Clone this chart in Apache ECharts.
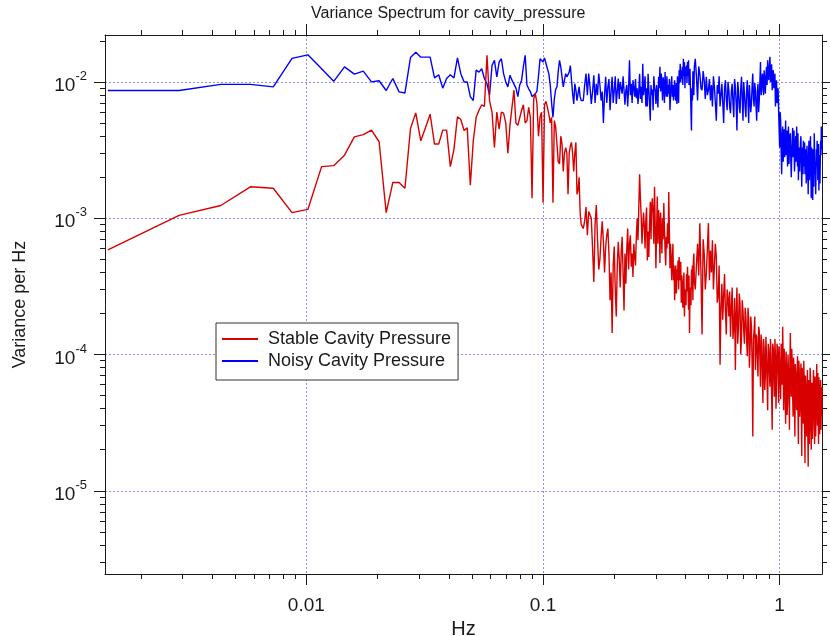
<!DOCTYPE html>
<html>
<head>
<meta charset="utf-8">
<title>Variance Spectrum for cavity_pressure</title>
<script src="https://cdn.jsdelivr.net/npm/echarts@6/dist/echarts.min.js"></script>
<style>
html, body { margin: 0; padding: 0; background: #fff; }
#spectrum { width: 830px; height: 636px; }
</style>
</head>
<body>
<div id="spectrum"></div>
<script>
// frequency bins (Hz), shared by both traces
var freqHz = [
    0.00145, 0.0029, 0.00435, 0.0058, 0.00725, 0.0087, 0.01015, 0.0116, 0.01305, 0.0145,
    0.01595, 0.0174, 0.01885, 0.0203, 0.02175, 0.0232, 0.02465, 0.0261, 0.02755, 0.029,
    0.03045, 0.0319, 0.03335, 0.0348, 0.03625, 0.0377, 0.03915, 0.0406, 0.04205, 0.0435,
    0.04495, 0.0464, 0.04785, 0.0493, 0.05075, 0.0522, 0.05365, 0.0551, 0.05655, 0.058,
    0.05945, 0.0609, 0.06235, 0.0638, 0.06525, 0.0667, 0.06815, 0.0696, 0.07105, 0.0725,
    0.07395, 0.0754, 0.07685, 0.0783, 0.07975, 0.0812, 0.08265, 0.0841, 0.08555, 0.087,
    0.08845, 0.0899, 0.09135, 0.0928, 0.09425, 0.0957, 0.09715, 0.0986, 0.10005, 0.1015,
    0.10295, 0.1044, 0.10585, 0.1073, 0.10875, 0.1102, 0.11165, 0.1131, 0.11455, 0.116,
    0.11745, 0.1189, 0.12035, 0.1218, 0.12325, 0.1247, 0.12615, 0.1276, 0.12905, 0.1305,
    0.13195, 0.1334, 0.13485, 0.1363, 0.13775, 0.1392, 0.14065, 0.1421, 0.14355, 0.145,
    0.148, 0.150, 0.152, 0.154, 0.156, 0.158, 0.160, 0.162, 0.164, 0.166,
    0.168, 0.170, 0.172, 0.174, 0.176, 0.178, 0.180, 0.182, 0.184, 0.186,
    0.188, 0.190, 0.192, 0.194, 0.196, 0.198, 0.200, 0.202, 0.204, 0.206,
    0.208, 0.210, 0.212, 0.214, 0.216, 0.218, 0.220, 0.222, 0.224, 0.226,
    0.228, 0.230, 0.232, 0.234, 0.236, 0.238, 0.240, 0.242, 0.244, 0.246,
    0.248, 0.250, 0.252, 0.254, 0.256, 0.258, 0.260, 0.262, 0.264, 0.266,
    0.268, 0.270, 0.272, 0.274, 0.276, 0.278, 0.280, 0.282, 0.284, 0.286,
    0.288, 0.290, 0.292, 0.294, 0.296, 0.298, 0.300, 0.302, 0.304, 0.306,
    0.308, 0.310, 0.312, 0.314, 0.316, 0.318, 0.320, 0.322, 0.324, 0.326,
    0.328, 0.330, 0.332, 0.334, 0.336, 0.338, 0.340, 0.342, 0.344, 0.346,
    0.348, 0.350, 0.352, 0.354, 0.356, 0.358, 0.360, 0.362, 0.364, 0.366,
    0.368, 0.370, 0.372, 0.374, 0.376, 0.378, 0.380, 0.382, 0.384, 0.386,
    0.388, 0.390, 0.392, 0.394, 0.396, 0.398, 0.400, 0.402, 0.404, 0.406,
    0.408, 0.410, 0.412, 0.414, 0.416, 0.418, 0.420, 0.422, 0.424, 0.426,
    0.428, 0.430, 0.432, 0.434, 0.436,
    0.440, 0.445, 0.450, 0.455, 0.460, 0.465, 0.470, 0.475, 0.480, 0.485,
    0.490, 0.495, 0.500, 0.505, 0.510, 0.515, 0.520, 0.525, 0.530, 0.535,
    0.540, 0.545, 0.550, 0.555, 0.560, 0.565, 0.570, 0.575, 0.580, 0.585,
    0.590, 0.595, 0.600, 0.605, 0.610, 0.615, 0.620, 0.625, 0.630, 0.635,
    0.640, 0.645, 0.650, 0.655, 0.660, 0.665, 0.670, 0.675, 0.680, 0.685,
    0.690, 0.695, 0.700, 0.705, 0.710, 0.715, 0.720, 0.725, 0.730, 0.735,
    0.740, 0.745, 0.750, 0.755, 0.760, 0.765, 0.770, 0.775, 0.780, 0.785,
    0.790, 0.795, 0.800, 0.805, 0.810, 0.815, 0.820, 0.825, 0.830, 0.835,
    0.840, 0.845, 0.850, 0.855, 0.860, 0.865, 0.870, 0.875, 0.880, 0.885,
    0.890, 0.895, 0.900, 0.905, 0.910, 0.915, 0.920, 0.925, 0.930, 0.935,
    0.940, 0.945, 0.950, 0.955, 0.960, 0.965, 0.970, 0.975, 0.980, 0.985,
    0.990, 0.995, 1.000, 1.005, 1.010, 1.015, 1.020, 1.025, 1.030, 1.035,
    1.040, 1.045, 1.050, 1.055, 1.060, 1.065, 1.070, 1.075, 1.080, 1.085,
    1.090, 1.095, 1.100, 1.105, 1.110, 1.115, 1.120, 1.125, 1.130, 1.135,
    1.140, 1.145, 1.150, 1.155, 1.160, 1.165, 1.170, 1.175, 1.180, 1.185,
    1.190, 1.195, 1.200, 1.205, 1.210, 1.215, 1.220, 1.225, 1.230, 1.235,
    1.240, 1.245, 1.250, 1.255, 1.260, 1.265, 1.270, 1.275, 1.280, 1.285,
    1.290, 1.295, 1.300, 1.305, 1.310, 1.315, 1.320, 1.325, 1.330, 1.335,
    1.340, 1.345, 1.350, 1.355, 1.360, 1.365, 1.370, 1.375, 1.380, 1.385,
    1.390, 1.395, 1.400, 1.405, 1.410, 1.415, 1.420, 1.425, 1.430, 1.435,
    1.440, 1.445, 1.450, 1.455, 1.460, 1.465, 1.470, 1.475, 1.480, 1.485,
    1.490, 1.495, 1.500, 1.505, 1.510
];

// variance per Hz, stable run (red)
var stablePressure = [
    5.85e-4, 1.05e-3, 1.24e-3, 1.70e-3, 1.66e-3, 1.10e-3, 1.16e-3, 2.39e-3, 2.43e-3, 2.90e-3,
    3.95e-3, 4.11e-3, 4.43e-3, 3.64e-3, 1.10e-3, 1.83e-3, 1.83e-3, 1.66e-3, 4.55e-3, 5.93e-3,
    3.70e-3, 4.63e-3, 5.80e-3, 3.50e-3, 3.50e-3, 4.43e-3, 4.43e-3, 2.39e-3, 3.20e-3, 5.55e-3,
    5.30e-3, 4.40e-3, 4.60e-3, 1.75e-3, 3.70e-3, 5.50e-3, 6.20e-3, 6.80e-3, 6.60e-3, 1.57e-2,
    7.30e-3, 6.00e-3, 3.30e-3, 6.00e-3, 4.50e-3, 6.00e-3, 5.90e-3, 5.00e-3, 3.00e-3, 4.80e-3,
    6.50e-3, 8.70e-3, 5.00e-3, 4.80e-3, 4.80e-3, 6.20e-3, 6.80e-3, 5.00e-3, 5.20e-3, 6.50e-3,
    5.50e-3, 1.40e-3, 7.50e-3, 8.20e-3, 7.00e-3, 4.00e-3, 5.50e-3, 6.00e-3, 1.30e-3, 6.80e-3,
    7.20e-3, 6.50e-3, 5.80e-3, 5.00e-3, 5.50e-3, 1.30e-3, 5.20e-3, 4.70e-3, 3.50e-3, 2.60e-3,
    2.50e-3, 4.00e-3, 3.50e-3, 2.20e-3, 3.00e-3, 3.30e-3, 3.00e-3, 1.50e-3, 3.00e-3, 3.40e-3,
    3.60e-3, 3.00e-3, 2.20e-3, 3.00e-3, 3.60e-3, 1.50e-3, 1.60e-3, 2.00e-3, 1.10e-3, 9.0e-4,
    8.4e-4, 9.5e-4, 1.21e-3, 7.5e-4, 1.12e-3, 1.15e-3, 1.0e-3, 6.0e-4, 3.4e-4, 9.0e-4,
    1.25e-3, 7.0e-4, 4.2e-4, 5.0e-4, 7.3e-4, 9.5e-4, 6.7e-4, 4.0e-4, 6.2e-4, 7.5e-4,
    8.4e-4, 5.5e-4, 2.5e-4, 4.0e-4, 1.44e-4, 4.5e-4, 6.2e-4, 3.0e-4, 1.9e-4, 4.5e-4,
    6.7e-4, 5.0e-4, 3.1e-4, 5.5e-4, 7.3e-4, 4.0e-4, 2.1e-4, 5.5e-4, 3.3e-4, 6.0e-4,
    8.4e-4, 4.2e-4, 6.5e-4, 7.5e-4, 4.4e-4, 5.5e-4, 3.7e-4, 6.5e-4, 5.2e-4, 4.5e-4,
    7.3e-4, 1.0e-3, 6.9e-4, 1.2e-3, 2.1e-3, 1.4e-3, 1.03e-3, 6.5e-4, 8.7e-4, 1.1e-3,
    8.7e-4, 6.0e-4, 9.7e-4, 1.2e-3, 4.9e-4, 8.0e-4, 5.2e-4, 9.0e-4, 1.32e-3, 7.0e-4,
    1.25e-3, 1.4e-3, 1.08e-3, 6.5e-4, 1.7e-3, 9.0e-4, 4.3e-4, 8.0e-4, 1.44e-3, 6.5e-4,
    1.15e-3, 9.5e-4, 4.7e-4, 1.1e-3, 8.2e-4, 5.5e-4, 1.0e-3, 7.0e-4, 1.29e-3, 8.5e-4,
    5.8e-4, 4.5e-4, 7.3e-4, 6.0e-4, 9.2e-4, 6.5e-4, 1.56e-3, 8.0e-4, 4.3e-4, 6.5e-4,
    4.9e-4, 3.5e-4, 5.0e-4, 6.5e-4, 3.5e-4, 4.5e-4, 2.5e-4, 3.5e-4, 4.5e-4, 2.8e-4,
    4.2e-4, 3.5e-4, 4.9e-4, 3.0e-4, 5.2e-4, 4.2e-4, 3.5e-4, 4.8e-4, 2.4e-4, 3.8e-4,
    3.0e-4, 2.2e-4, 3.3e-4, 4.0e-4, 1.9e-4, 2.7e-4, 3.0e-4, 2.3e-4, 3.9e-4, 2.9e-4,
    4.4e-4, 3.2e-4, 2.13e-4, 3.8e-4, 1.44e-4, 2.6e-4, 3.1e-4, 2.3e-4, 4.2e-4, 3.0e-4,
    4.5e-4, 2.5e-4, 4.9e-4, 5.5e-4, 3.5e-4,
    3.0e-4, 4.5e-4, 6.5e-4, 3.8e-4, 9.2e-4, 4.0e-4, 1.4e-4, 7.0e-4, 5.5e-4, 3.0e-4,
    3.9e-4, 6.0e-4, 9.2e-4, 3.5e-4, 5.8e-4, 4.0e-4, 6.9e-4, 3.0e-4, 4.4e-4, 6.5e-4,
    5.2e-4, 2.4e-4, 2.7e-4, 4.5e-4, 8.4e-5, 2.2e-4, 3.3e-4, 1.8e-4, 2.7e-4, 3.9e-4,
    2.1e-4, 1.4e-4, 3.0e-4, 2.6e-4, 1.9e-4, 2.9e-4, 1.35e-4, 2.2e-4, 3.1e-4, 1.3e-4,
    1.6e-4, 2.6e-4, 7.7e-5, 2.0e-4, 3.1e-4, 1.2e-4, 1.6e-4, 2.8e-4, 2.4e-4, 1.0e-4,
    1.35e-4, 2.5e-4, 2.1e-4, 1.5e-4, 1.2e-4, 2.2e-4, 1.9e-4, 1.3e-4, 9.7e-5, 2.2e-4,
    1.8e-4, 8.0e-5, 1.1e-4, 1.9e-4, 1.6e-4, 8.5e-5, 2.5e-5, 1.3e-4, 1.5e-4, 1.9e-4,
    7.7e-5, 1.4e-4, 1.35e-4, 9.0e-5, 6.9e-5, 1.6e-4, 1.5e-4, 9.5e-5, 5.8e-5, 1.4e-4,
    1.2e-4, 7.0e-5, 4.4e-5, 1.3e-4, 1.1e-4, 5.5e-5, 6.9e-5, 1.35e-4, 9.7e-5, 6.0e-5,
    3.9e-5, 1.2e-4, 1.08e-4, 7.5e-5, 5.8e-5, 1.3e-4, 9.7e-5, 5.0e-5, 2.8e-5, 1.2e-4,
    1.1e-4, 7.0e-5, 4.9e-5, 1.3e-4, 9.7e-5, 4.0e-5, 6.2e-5, 1.2e-4, 1.1e-4, 7.5e-5,
    4.4e-5, 1.15e-4, 8.6e-5, 6.0e-5, 4.7e-5, 1.2e-4, 1.08e-4, 6.0e-5, 1.6e-4, 9.0e-5,
    3.9e-5, 1.1e-4, 8.6e-5, 5.0e-5, 3.1e-5, 1.05e-4, 7.7e-5, 3.6e-5, 4.4e-5, 1.0e-4,
    9.7e-5, 5.5e-5, 2.8e-5, 9.0e-5, 1.44e-4, 6.0e-5, 4.9e-5, 1.1e-4, 8.6e-5, 5.0e-5,
    3.5e-5, 9.5e-5, 7.7e-5, 4.2e-5, 2.5e-5, 8.5e-5, 7.3e-5, 5.0e-5, 3.9e-5, 6.5e-5,
    9.7e-5, 4.0e-5, 2.2e-5, 9.0e-5, 7.7e-5, 3.5e-5, 4.4e-5, 6.0e-5, 8.6e-5, 3.5e-5,
    1.8e-5, 8.0e-5, 6.9e-5, 4.0e-5, 3.1e-5, 9.0e-5, 6.2e-5, 2.8e-5, 1.6e-5, 7.0e-5,
    5.8e-5, 3.5e-5, 2.5e-5, 5.0e-5, 7.7e-5, 2.8e-5, 1.5e-5, 6.5e-5, 4.9e-5, 2.2e-5,
    3.1e-5, 8.0e-5, 6.9e-5, 3.8e-5, 2.0e-5, 4.5e-5, 6.2e-5, 2.4e-5, 2.8e-5, 5.5e-5,
    7.7e-5, 4.5e-5, 3.5e-5, 2.2e-5, 6.9e-5, 4.8e-5, 2.5e-5, 4.0e-5, 6.2e-5, 8.5e-5,
    3.9e-5, 3.0e-5, 7.3e-5, 4.5e-5, 2.2e-5, 6.8e-5, 5.5e-5, 2.6e-5, 3.1e-5, 4.8e-5,
    6.5e-5, 2.8e-5, 4.4e-5, 3.5e-5, 5.8e-5
];

// variance per Hz, noisy run (blue)
var noisyPressure = [
    8.65e-3, 8.65e-3, 9.6e-3, 9.6e-3, 9.2e-3, 1.49e-2, 1.58e-2, 1.25e-2, 1.01e-2, 1.29e-2,
    1.14e-2, 1.20e-2, 1.00e-2, 1.02e-2, 8.65e-3, 1.06e-2, 8.45e-3, 8.3e-3, 1.51e-2, 1.65e-2,
    1.52e-2, 1.52e-2, 1.52e-2, 1.07e-2, 1.13e-2, 9.0e-3, 1.06e-2, 1.13e-2, 1.07e-2, 1.50e-2,
    1.15e-2, 1.00e-2, 1.00e-2, 7.8e-3, 7.3e-3, 1.22e-2, 1.18e-2, 1.25e-2, 1.06e-2, 9.7e-3,
    8.0e-3, 1.32e-2, 1.44e-2, 1.09e-2, 1.40e-2, 1.48e-2, 1.15e-2, 1.00e-2, 9.2e-3, 1.12e-2,
    1.03e-2, 1.00e-2, 9.0e-3, 7.8e-3, 9.5e-3, 1.03e-2, 1.30e-2, 1.57e-2, 9.5e-3, 8.9e-3,
    8.5e-3, 7.8e-3, 8.0e-3, 8.2e-3, 8.5e-3, 1.10e-2, 1.48e-2, 1.53e-2, 1.40e-2, 1.50e-2,
    1.53e-2, 1.25e-2, 1.15e-2, 9.5e-3, 7.0e-3, 5.5e-3, 7.5e-3, 8.8e-3, 9.2e-3, 1.20e-2,
    1.44e-2, 1.29e-2, 1.09e-2, 9.2e-3, 9.2e-3, 1.15e-2, 1.09e-2, 1.06e-2, 1.18e-2, 1.32e-2,
    1.29e-2, 8.2e-3, 6.9e-3, 9.7e-3, 8.7e-3, 7.3e-3, 8.2e-3, 9.2e-3, 7.8e-3, 7.3e-3,
    7.3e-3, 9.5e-3, 1.15e-2, 8.0e-3, 1.15e-2, 9.2e-3, 6.9e-3, 8.5e-3, 1.12e-2, 7.0e-3,
    9.7e-3, 8.0e-3, 1.15e-2, 9.5e-3, 7.3e-3, 8.5e-3, 5.0e-3, 8.0e-3, 1.09e-2, 7.0e-3,
    9.2e-3, 1.05e-2, 6.2e-3, 8.5e-3, 1.09e-2, 7.0e-3, 8.7e-3, 1.1e-2, 6.9e-3, 8.5e-3,
    1.06e-2, 7.5e-3, 1.0e-2, 9.0e-3, 8.2e-3, 1.1e-2, 8.7e-3, 6.8e-3, 8.7e-3, 9.5e-3,
    6.6e-3, 9.0e-3, 1.44e-2, 8.0e-3, 9.7e-3, 7.0e-3, 1.03e-2, 9.0e-3, 7.8e-3, 1.05e-2,
    7.6e-3, 9.0e-3, 6.9e-3, 8.5e-3, 1.15e-2, 7.5e-3, 9.2e-3, 7.0e-3, 1.36e-2, 8.0e-3,
    9.2e-3, 1.1e-2, 6.6e-3, 9.0e-3, 6.6e-3, 1.15e-2, 8.9e-3, 7.0e-3, 5.2e-3, 9.5e-3,
    8.0e-3, 8.8e-3, 6.2e-3, 1.1e-2, 9.2e-3, 8.5e-3, 6.9e-3, 9.5e-3, 7.8e-3, 6.5e-3,
    1.09e-2, 9.0e-3, 1.29e-2, 8.5e-3, 1.15e-2, 9.8e-3, 7.3e-3, 1.08e-2, 9.7e-3, 7.0e-3,
    1.18e-2, 9.0e-3, 7.8e-3, 1.1e-2, 7.8e-3, 9.5e-3, 8.2e-3, 1.05e-2, 6.2e-3, 7.8e-3,
    9.7e-3, 1.1e-2, 7.8e-3, 9.5e-3, 7.3e-3, 8.5e-3, 1.03e-2, 8.0e-3, 7.3e-3, 9.8e-3,
    6.9e-3, 1.1e-2, 9.2e-3, 7.0e-3, 1.22e-2, 9.8e-3, 1.36e-2, 1.0e-2, 1.22e-2, 1.05e-2,
    1.29e-2, 9.5e-3, 1.48e-2, 1.1e-2, 1.40e-2, 9.0e-3, 1.29e-2, 1.1e-2, 1.32e-2, 9.8e-3,
    1.40e-2, 1.1e-2, 1.44e-2, 9.5e-3, 1.15e-2, 1.25e-2, 8.7e-3, 6.0e-3, 4.4e-3, 9.0e-3,
    7.3e-3, 1.2e-2, 1.09e-2, 8.0e-3, 1.29e-2,
    1.48e-2, 1.1e-2, 7.3e-3, 1.3e-2, 1.15e-2, 9.0e-3, 8.7e-3, 1.2e-2, 1.03e-2, 7.5e-3,
    1.09e-2, 8.0e-3, 8.7e-3, 1.05e-2, 7.3e-3, 9.5e-3, 6.6e-3, 1.1e-2, 9.2e-3, 7.0e-3,
    5.2e-3, 9.5e-3, 8.2e-3, 1.1e-2, 6.6e-3, 8.0e-3, 9.7e-3, 7.0e-3, 5.0e-3, 9.0e-3,
    1.03e-2, 7.5e-3, 6.2e-3, 1.0e-2, 8.7e-3, 6.5e-3, 5.9e-3, 8.5e-3, 9.7e-3, 7.0e-3,
    5.5e-3, 1.05e-2, 9.2e-3, 7.0e-3, 4.4e-3, 1.0e-2, 8.7e-3, 6.5e-3, 5.9e-3, 9.0e-3,
    1.09e-2, 7.5e-3, 5.2e-3, 1.0e-2, 8.2e-3, 6.5e-3, 5.5e-3, 8.5e-3, 1.03e-2, 7.5e-3,
    5.0e-3, 9.5e-3, 9.2e-3, 6.0e-3, 6.9e-3, 9.5e-3, 1.15e-2, 7.5e-3, 6.6e-3, 9.8e-3,
    8.7e-3, 6.5e-3, 5.2e-3, 8.5e-3, 9.7e-3, 6.0e-3, 7.3e-3, 1.0e-2, 1.40e-2, 8.0e-3,
    8.7e-3, 1.15e-2, 1.09e-2, 8.0e-3, 1.22e-2, 1.0e-2, 8.2e-3, 1.1e-2, 1.29e-2, 9.5e-3,
    1.44e-2, 1.2e-2, 1.03e-2, 1.3e-2, 1.53e-2, 1.0e-2, 1.15e-2, 1.35e-2, 8.7e-3, 1.1e-2,
    1.22e-2, 9.0e-3, 9.7e-3, 1.15e-2, 6.6e-3, 8.5e-3, 1.03e-2, 7.0e-3, 7.3e-3, 9.0e-3,
    6.2e-3, 4.5e-3, 3.3e-3, 6.0e-3, 5.2e-3, 3.0e-3, 2.1e-3, 4.0e-3, 4.7e-3, 2.6e-3,
    3.7e-3, 4.5e-3, 2.8e-3, 3.4e-3, 5.2e-3, 2.9e-3, 3.7e-3, 4.4e-3, 2.4e-3, 3.6e-3,
    4.7e-3, 2.5e-3, 3.2e-3, 4.0e-3, 4.2e-3, 2.6e-3, 2.0e-3, 3.0e-3, 3.7e-3, 4.6e-3,
    2.8e-3, 3.4e-3, 4.4e-3, 2.2e-3, 2.7e-3, 3.5e-3, 4.0e-3, 2.6e-3, 4.7e-3, 3.6e-3,
    2.4e-3, 4.2e-3, 1.9e-3, 2.8e-3, 3.3e-3, 2.2e-3, 3.0e-3, 3.6e-3, 4.0e-3, 2.5e-3,
    1.7e-3, 2.8e-3, 3.3e-3, 2.1e-3, 3.7e-3, 2.7e-3, 2.4e-3, 3.6e-3, 2.1e-3, 2.6e-3,
    3.2e-3, 1.8e-3, 2.8e-3, 3.4e-3, 1.9e-3, 2.6e-3, 1.5e-3, 3.0e-3, 3.7e-3, 1.9e-3,
    2.4e-3, 3.0e-3, 4.0e-3, 2.1e-3, 1.4e-3, 3.3e-3, 2.7e-3, 2.0e-3, 1.36e-3, 3.2e-3,
    2.6e-3, 1.7e-3, 4.2e-3, 3.0e-3, 2.1e-3, 2.6e-3, 1.5e-3, 2.2e-3, 3.2e-3, 2.4e-3,
    3.7e-3, 2.8e-3, 1.9e-3, 2.5e-3, 3.5e-3, 1.6e-3, 2.3e-3, 2.9e-3, 1.8e-3, 2.6e-3,
    3.7e-3, 2.9e-3, 4.7e-3, 4.0e-3, 3.2e-3
];

// axis extents and tick positions
var xRange = [0.00141, 1.51];
var yRange = [2.45e-6, 0.0221];
var xMajorTicks = [0.01, 0.1, 1];
var xMinorTicks = [0.002, 0.003, 0.004, 0.005, 0.006, 0.007, 0.008, 0.009,
                   0.02, 0.03, 0.04, 0.05, 0.06, 0.07, 0.08, 0.09,
                   0.2, 0.3, 0.4, 0.5, 0.6, 0.7, 0.8, 0.9];
var yMajorTicks = [1e-5, 1e-4, 1e-3, 1e-2];
var yMinorTicks = [3e-6, 4e-6, 5e-6, 6e-6, 7e-6, 8e-6, 9e-6,
                   2e-5, 3e-5, 4e-5, 5e-5, 6e-5, 7e-5, 8e-5, 9e-5,
                   2e-4, 3e-4, 4e-4, 5e-4, 6e-4, 7e-4, 8e-4, 9e-4,
                   2e-3, 3e-3, 4e-3, 5e-3, 6e-3, 7e-3, 8e-3, 9e-3,
                   2e-2];

var fontName = '"Liberation Sans", Arial, sans-serif';
var inkColor = '#1a1a1a';

function gridLine() {
    return { show: true, lineStyle: { color: '#8c8cff', width: 1, type: [2, 2] } };
}

function pairUp(xs, ys) {
    var out = [];
    for (var i = 0; i < xs.length; i++) {
        out.push([xs[i], ys[i]]);
    }
    return out;
}

// one log axis of the frame; extra keys override the defaults
function frameAxis(position, range, ticks, tickLength, showLine, extra) {
    var axis = {
        type: 'log',
        logBase: 10,
        position: position,
        min: range[0],
        max: range[1],
        axisLine: { show: showLine, onZero: false, lineStyle: { color: inkColor, width: 1 } },
        axisTick: { show: true, inside: false, length: tickLength, customValues: ticks,
                    lineStyle: { color: inkColor, width: 1 } },
        axisLabel: { show: false },
        splitLine: { show: false }
    };
    for (var key in extra) {
        axis[key] = extra[key];
    }
    return axis;
}

var chart = echarts.init(document.getElementById('spectrum'), null, { renderer: 'canvas' });

var option = {
    animation: false,
    backgroundColor: '#ffffff',
    title: {
        text: 'Variance Spectrum for cavity_pressure',
        left: 311,
        top: 6,
        padding: 0,
        textStyle: { fontFamily: fontName, fontSize: 16, fontWeight: 'normal', color: inkColor }
    },
    grid: { left: 105, right: 8, top: 35, bottom: 62, containLabel: false, outerBoundsMode: 'none' },
    legend: {
        data: ['Stable Cavity Pressure', 'Noisy Cavity Pressure'],
        orient: 'vertical',
        left: 216,
        top: 323,
        padding: [5, 7, 8, 6],
        itemGap: 0,
        itemWidth: 36,
        itemHeight: 2,
        icon: 'rect',
        selectedMode: false,
        backgroundColor: '#ffffff',
        borderColor: '#333333',
        borderWidth: 1,
        borderRadius: 0,
        textStyle: { fontFamily: fontName, fontSize: 18, color: inkColor, lineHeight: 22, padding: [0, 0, 0, 5] }
    },
    xAxis: [
        frameAxis('bottom', xRange, xMajorTicks, 11, true, {
            name: 'Hz',
            nameLocation: 'middle',
            nameGap: 40,
            nameTextStyle: { fontFamily: fontName, fontSize: 20, color: inkColor },
            axisLabel: {
                show: true,
                customValues: xMajorTicks,
                margin: 22,
                fontFamily: fontName,
                fontSize: 19,
                color: inkColor,
                formatter: function (v) { return String(Number(v.toPrecision(6))); }
            },
            splitLine: gridLine()
        }),
        frameAxis('bottom', xRange, xMinorTicks, 5, false, {}),
        frameAxis('top', xRange, xMajorTicks, 11, true, {}),
        frameAxis('top', xRange, xMinorTicks, 5, false, {})
    ],
    yAxis: [
        frameAxis('left', yRange, yMajorTicks, 11, true, {
            name: 'Variance per Hz',
            nameLocation: 'middle',
            nameGap: 76,
            nameTextStyle: { fontFamily: fontName, fontSize: 18, color: inkColor },
            axisLabel: {
                show: true,
                customValues: yMajorTicks,
                margin: 18,
                padding: [8, 0, 0, 0],
                color: inkColor,
                fontFamily: fontName,
                formatter: function (v) {
                    var e = Math.round(Math.log(v) / Math.LN10);
                    return '{b|10}{e|' + e + '}';
                },
                rich: {
                    b: { fontFamily: fontName, fontSize: 19, lineHeight: 32, color: inkColor },
                    e: { fontFamily: fontName, fontSize: 13, lineHeight: 12, verticalAlign: 'top', color: inkColor }
                }
            },
            splitLine: gridLine()
        }),
        frameAxis('left', yRange, yMinorTicks, 5, false, {}),
        frameAxis('right', yRange, yMajorTicks, 11, true, {}),
        frameAxis('right', yRange, yMinorTicks, 5, false, {})
    ],
    series: [
        {
            name: 'Noisy Cavity Pressure',
            type: 'line',
            xAxisIndex: 0,
            yAxisIndex: 0,
            data: pairUp(freqHz, noisyPressure),
            color: '#0000ff',
            symbol: 'none',
            showSymbol: false,
            lineStyle: { color: '#0000ff', width: 1.4 },
            z: 2
        },
        {
            name: 'Stable Cavity Pressure',
            type: 'line',
            xAxisIndex: 0,
            yAxisIndex: 0,
            data: pairUp(freqHz, stablePressure),
            color: '#d80000',
            symbol: 'none',
            showSymbol: false,
            lineStyle: { color: '#d80000', width: 1.4 },
            z: 3
        }
    ]
};

chart.setOption(option);
</script>
</body>
</html>
